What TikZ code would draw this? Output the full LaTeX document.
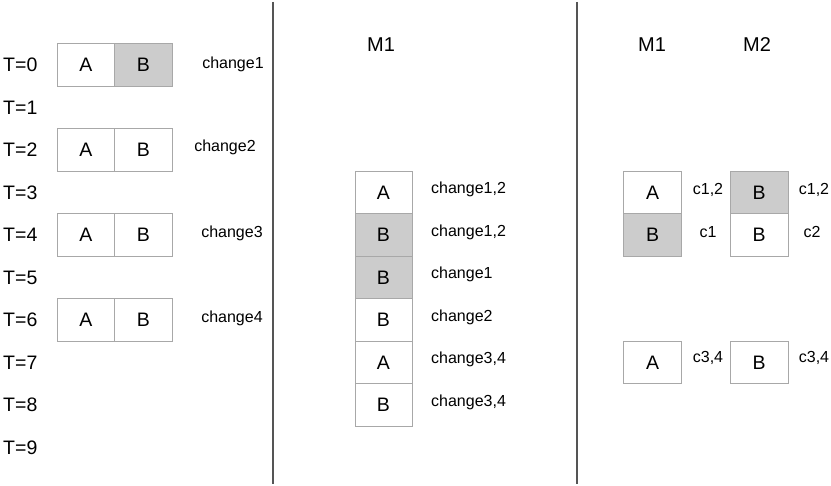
\documentclass[tikz,border=0pt]{standalone}
\usepackage{fontspec}
\setmainfont{Liberation Sans}
\definecolor{cellfill}{HTML}{CCCCCC}
\definecolor{cellline}{HTML}{A8A8A8}
\definecolor{divline}{HTML}{555555}
\begin{document}
\begin{tikzpicture}[x=1pt,y=-1pt,
  cell/.style={draw=cellline,line width=0.8pt,minimum width=57.5pt,minimum height=42.5pt,inner sep=0pt,font=\fontsize{19.5}{21}\selectfont},
  shaded/.style={cell,fill=cellfill},
  tlab/.style={anchor=west,inner sep=0pt,font=\fontsize{19.5}{21}\selectfont},
  head/.style={inner sep=0pt,font=\fontsize{20}{22}\selectfont},
  clab/.style={inner sep=0pt,font=\fontsize{16}{18}\selectfont},
  divider/.style={draw=divline,line width=1.3pt}]
\useasboundingbox (0,0) rectangle (831,486);
% time labels
\foreach \t in {0,...,9}{
  \node[tlab] (t\t) at (3,{65+42.5*\t}) {T=\t};
}
% left boxes
\node[cell]   (l0a) at (86,65) {A};
\node[shaded] (l0b) at (143.5,65) {B};
\node[cell]   (l2a) at (86,150) {A};
\node[cell]   (l2b) at (143.5,150) {B};
\node[cell]   (l4a) at (86,235) {A};
\node[cell]   (l4b) at (143.5,235) {B};
\node[cell]   (l6a) at (86,320) {A};
\node[cell]   (l6b) at (143.5,320) {B};
\node[clab] (ch1) at (233,64) {change1};
\node[clab] (ch2) at (225,147) {change2};
\node[clab] (ch3) at (232,233) {change3};
\node[clab] (ch4) at (232,318) {change4};
% dividers
\coordinate (d1t) at (273,2);
\coordinate (d1b) at (273,484);
\coordinate (d2t) at (577,2);
\coordinate (d2b) at (577,484);
\draw[divider] (d1t) -- (d1b);
\draw[divider] (d2t) -- (d2b);
% middle column
\node[head] (mm1) at (381,45) {M1};
\node[cell,minimum width=57pt]   (m3) at (383.5,192.5) {A};
\node[shaded,minimum width=57pt] (m4) at (383.5,235) {B};
\node[shaded,minimum width=57pt] (m5) at (383.5,277.5) {B};
\node[cell,minimum width=57pt]   (m6) at (383.5,320) {B};
\node[cell,minimum width=57pt]   (m7) at (383.5,362.5) {A};
\node[cell,minimum width=57pt]   (m8) at (383.5,405) {B};
\node[clab,anchor=west] (mc3) at (431,189) {change1,2};
\node[clab,anchor=west] (mc4) at (431,232) {change1,2};
\node[clab,anchor=west] (mc5) at (431,274) {change1};
\node[clab,anchor=west] (mc6) at (431,317) {change2};
\node[clab,anchor=west] (mc7) at (431,359) {change3,4};
\node[clab,anchor=west] (mc8) at (431,402) {change3,4};
% right columns
\node[head] (rm1) at (652,45) {M1};
\node[head] (rm2) at (757,45) {M2};
\node[cell,minimum width=58pt]   (r1a) at (652.5,192.5) {A};
\node[shaded,minimum width=58pt] (r1b) at (652.5,235) {B};
\node[shaded,minimum width=58pt] (r2a) at (759,192.5) {B};
\node[cell,minimum width=58pt]   (r2b) at (759,235) {B};
\node[cell,minimum width=58pt]   (r1c) at (652.5,362.5) {A};
\node[cell,minimum width=58pt]   (r2c) at (759,362.5) {B};
\node[clab] (rc1a) at (708,190) {c1,2};
\node[clab] (rc1b) at (708,232) {c1};
\node[clab] (rc2a) at (814,190) {c1,2};
\node[clab] (rc2b) at (812,232) {c2};
\node[clab] (rc1c) at (708,358) {c3,4};
\node[clab] (rc2c) at (814,358) {c3,4};
\end{tikzpicture}
\end{document}
